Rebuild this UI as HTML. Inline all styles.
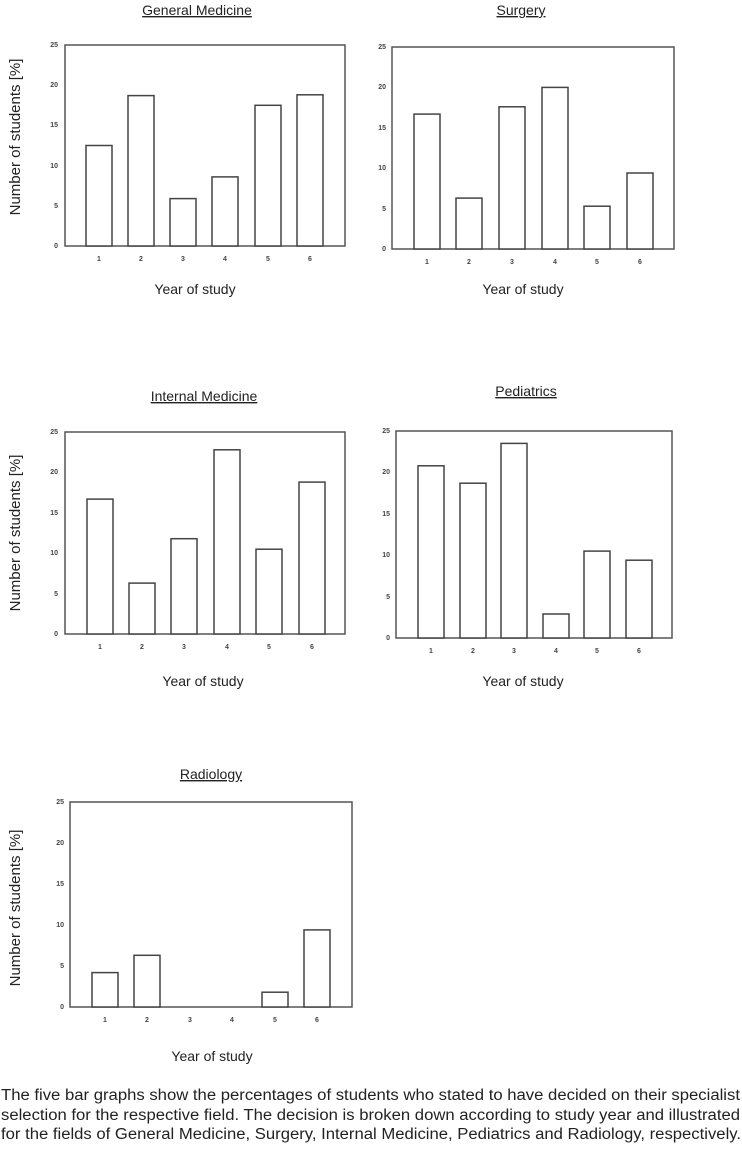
<!DOCTYPE html>
<html><head><meta charset="utf-8"><style>
html,body{margin:0;padding:0;background:#fff;}
svg{display:block;font-family:"Liberation Sans",Arial,sans-serif;}
.ax{fill:none;stroke:#555;stroke-width:1.5}
.bar{fill:#fff;stroke:#444;stroke-width:1.5}
.tk{font-size:7px;fill:#444;font-weight:bold}
.ti{font-size:14px;fill:#222;text-decoration:underline}
.xl{font-size:14px;fill:#222}
.yl{font-size:15px;fill:#222}
.cap{font-size:15.5px;fill:#222}
</style></head><body>
<svg width="742" height="1156" viewBox="0 0 742 1156" xmlns="http://www.w3.org/2000/svg">
<!-- General Medicine -->
<text class="ti" x="197" y="15" text-anchor="middle">General Medicine</text>
<rect class="ax" x="65" y="45" width="280" height="201"/>
<g class="bar">
<rect x="86" y="145.5" width="26" height="100.5"/>
<rect x="128" y="95.6" width="26" height="150.4"/>
<rect x="170" y="198.6" width="26" height="47.4"/>
<rect x="212" y="176.9" width="26" height="69.1"/>
<rect x="255" y="105.3" width="26" height="140.7"/>
<rect x="297" y="94.8" width="26" height="151.2"/>
</g>
<g class="tk" text-anchor="end">
<text x="58" y="248">0</text><text x="58" y="208">5</text><text x="58" y="168">10</text><text x="58" y="127">15</text><text x="58" y="87">20</text><text x="58" y="47">25</text>
</g>
<g class="tk" text-anchor="middle">
<text x="99" y="261">1</text><text x="141" y="261">2</text><text x="183" y="261">3</text><text x="225" y="261">4</text><text x="268" y="261">5</text><text x="310" y="261">6</text>
</g>
<text class="xl" x="195" y="294" text-anchor="middle">Year of study</text>
<text class="yl" transform="translate(20,137) rotate(-90)" text-anchor="middle">Number of students [%]</text>

<!-- Surgery -->
<text class="ti" x="521" y="15" text-anchor="middle">Surgery</text>
<rect class="ax" x="392" y="47" width="282" height="202"/>
<g class="bar">
<rect x="414" y="114.1" width="26" height="134.9"/>
<rect x="456" y="198.1" width="26" height="50.9"/>
<rect x="499" y="106.8" width="26" height="142.2"/>
<rect x="542" y="87.4" width="26" height="161.6"/>
<rect x="584" y="206.2" width="26" height="42.8"/>
<rect x="627" y="173" width="26" height="76"/>
</g>
<g class="tk" text-anchor="end">
<text x="386" y="251">0</text><text x="386" y="211">5</text><text x="386" y="170">10</text><text x="386" y="130">15</text><text x="386" y="89">20</text><text x="386" y="49">25</text>
</g>
<g class="tk" text-anchor="middle">
<text x="427" y="264">1</text><text x="469" y="264">2</text><text x="512" y="264">3</text><text x="555" y="264">4</text><text x="597" y="264">5</text><text x="640" y="264">6</text>
</g>
<text class="xl" x="523" y="294" text-anchor="middle">Year of study</text>

<!-- Internal Medicine -->
<text class="ti" x="204" y="401" text-anchor="middle">Internal Medicine</text>
<rect class="ax" x="65" y="432" width="280" height="202"/>
<g class="bar">
<rect x="87" y="499.1" width="26" height="134.9"/>
<rect x="129" y="583.1" width="26" height="50.9"/>
<rect x="171" y="538.7" width="26" height="95.3"/>
<rect x="214" y="449.8" width="26" height="184.2"/>
<rect x="256" y="549.2" width="26" height="84.8"/>
<rect x="299" y="482.1" width="26" height="151.9"/>
</g>
<g class="tk" text-anchor="end">
<text x="58" y="636">0</text><text x="58" y="596">5</text><text x="58" y="555">10</text><text x="58" y="515">15</text><text x="58" y="474">20</text><text x="58" y="434">25</text>
</g>
<g class="tk" text-anchor="middle">
<text x="100" y="649">1</text><text x="142" y="649">2</text><text x="184" y="649">3</text><text x="227" y="649">4</text><text x="269" y="649">5</text><text x="312" y="649">6</text>
</g>
<text class="xl" x="203" y="686" text-anchor="middle">Year of study</text>
<text class="yl" transform="translate(20,533) rotate(-90)" text-anchor="middle">Number of students [%]</text>

<!-- Pediatrics -->
<text class="ti" x="526" y="396" text-anchor="middle">Pediatrics</text>
<rect class="ax" x="396" y="431" width="276" height="207"/>
<g class="bar">
<rect x="418" y="465.8" width="26" height="172.2"/>
<rect x="460" y="483.2" width="26" height="154.8"/>
<rect x="501" y="443.4" width="26" height="194.6"/>
<rect x="543" y="614" width="26" height="24"/>
<rect x="584" y="551.1" width="26" height="86.9"/>
<rect x="626" y="560.2" width="26" height="77.8"/>
</g>
<g class="tk" text-anchor="end">
<text x="390" y="640">0</text><text x="390" y="599">5</text><text x="390" y="557">10</text><text x="390" y="516">15</text><text x="390" y="474">20</text><text x="390" y="433">25</text>
</g>
<g class="tk" text-anchor="middle">
<text x="431" y="653">1</text><text x="473" y="653">2</text><text x="514" y="653">3</text><text x="556" y="653">4</text><text x="597" y="653">5</text><text x="639" y="653">6</text>
</g>
<text class="xl" x="523" y="686" text-anchor="middle">Year of study</text>

<!-- Radiology -->
<text class="ti" x="211" y="779" text-anchor="middle">Radiology</text>
<rect class="ax" x="70" y="802" width="282" height="205"/>
<g class="bar">
<rect x="92" y="972.6" width="26" height="34.4"/>
<rect x="134" y="955.3" width="26" height="51.7"/>
<rect x="262" y="992.2" width="26" height="14.8"/>
<rect x="304" y="929.9" width="26" height="77.1"/>
</g>
<g class="tk" text-anchor="end">
<text x="64" y="1009">0</text><text x="64" y="968">5</text><text x="64" y="927">10</text><text x="64" y="886">15</text><text x="64" y="845">20</text><text x="64" y="804">25</text>
</g>
<g class="tk" text-anchor="middle">
<text x="105" y="1022">1</text><text x="147" y="1022">2</text><text x="190" y="1022">3</text><text x="232" y="1022">4</text><text x="275" y="1022">5</text><text x="317" y="1022">6</text>
</g>
<text class="xl" x="212" y="1061" text-anchor="middle">Year of study</text>
<text class="yl" transform="translate(20,908) rotate(-90)" text-anchor="middle">Number of students [%]</text>

<!-- Caption -->
<text class="cap" x="1" y="1100" textLength="739" lengthAdjust="spacingAndGlyphs">The five bar graphs show the percentages of students who stated to have decided on their specialist</text>
<text class="cap" x="1" y="1120" textLength="739" lengthAdjust="spacingAndGlyphs">selection for the respective field. The decision is broken down according to study year and illustrated</text>
<text class="cap" x="1" y="1139" textLength="740" lengthAdjust="spacingAndGlyphs">for the fields of General Medicine, Surgery, Internal Medicine, Pediatrics and Radiology, respectively.</text>
</svg>
</body></html>
